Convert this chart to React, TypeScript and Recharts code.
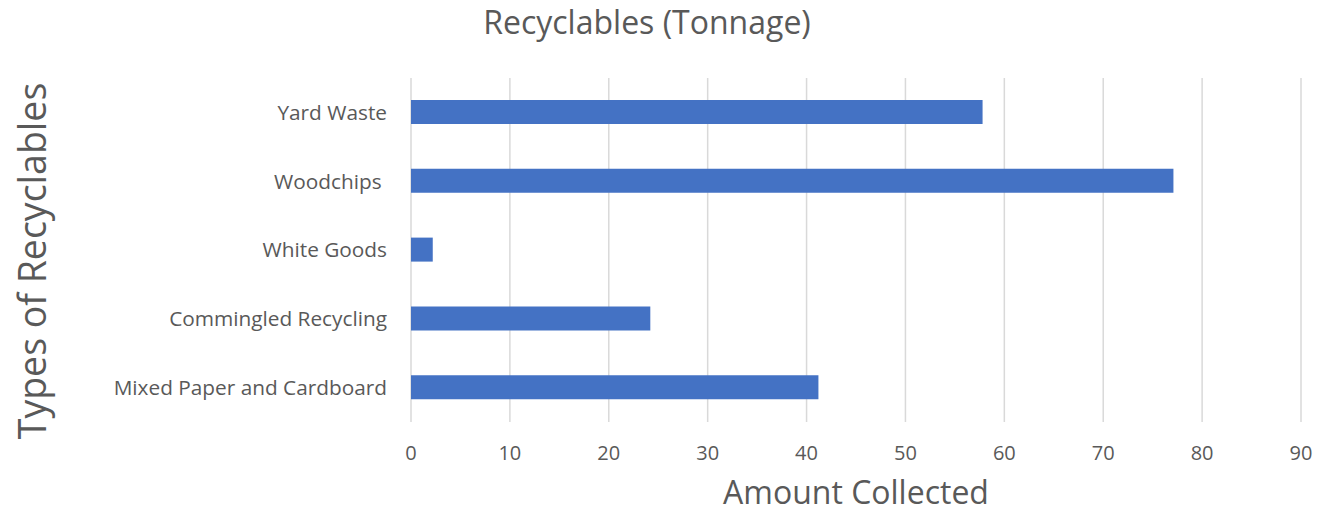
import React from 'react';
import { BarChart, Bar, XAxis, YAxis, CartesianGrid, Label } from 'recharts';

const categories = ['Yard Waste', 'Woodchips ', 'White Goods', 'Commingled Recycling', 'Mixed Paper and Cardboard'];
const amounts = [57.8, 77.1, 2.2, 24.2, 41.2];
const xTicks = [0, 10, 20, 30, 40, 50, 60, 70, 80, 90];

const data = categories.map((name, i) => ({ name, value: amounts[i] }));

const FONT = '"Open Sans", "Segoe UI", sans-serif';
const TEXT = '#595959';

const CategoryTick = (props: any) => {
  const { x, y, payload } = props;
  return (
    <text
      x={x}
      y={y}
      dy="0.355em"
      textAnchor="end"
      fill={TEXT}
      fontSize={20.8}
      fontFamily={FONT}
      style={{ whiteSpace: 'pre' }}
    >
      {payload.value}
    </text>
  );
};

const YTitle = (props: any) => {
  const vb = props.viewBox || { x: 0, y: 0, width: 0, height: 0 };
  const cx = vb.x + 46;
  const cy = vb.y + vb.height / 2 + 11;
  return (
    <text
      x={cx}
      y={cy}
      transform={`rotate(-90 ${cx} ${cy})`}
      textAnchor="middle"
      fill={TEXT}
      fontSize={37.5}
      fontFamily={FONT}
    >
      Types of Recyclables
    </text>
  );
};

const XTitle = (props: any) => {
  const vb = props.viewBox || { x: 0, y: 0, width: 0, height: 0 };
  const cx = vb.x + vb.width / 2;
  const cy = vb.y + vb.height - 10;
  return (
    <text x={cx} y={cy} textAnchor="middle" fill={TEXT} fontSize={32} fontFamily={FONT}>
      Amount Collected
    </text>
  );
};

export default function App() {
  return (
    <div style={{ position: 'absolute', left: 0, top: 0, width: 1335, height: 514, background: '#fff' }}>
      <div
        style={{
          position: 'absolute',
          left: 347,
          width: 600,
          top: 6,
          textAlign: 'center',
          fontFamily: FONT,
          fontSize: 32,
          lineHeight: '32px',
          color: TEXT,
        }}
      >
        Recyclables (Tonnage)
      </div>
      <BarChart
        width={1335}
        height={514}
        data={data}
        layout="vertical"
        margin={{ top: 78, right: 34, bottom: 0, left: 0 }}
      >
        <CartesianGrid horizontal={false} vertical={true} stroke="#d9d9d9" strokeWidth={1.5} />
        <XAxis
          type="number"
          domain={[0, 90]}
          ticks={xTicks}
          interval={0}
          height={92}
          axisLine={false}
          tickLine={false}
          tickSize={0}
          tickMargin={24}
          tick={{ fill: TEXT, fontSize: 20, fontFamily: FONT }}
        >
          <Label content={<XTitle />} />
        </XAxis>
        <YAxis
          type="category"
          dataKey="name"
          width={411}
          axisLine={false}
          tickLine={false}
          tickSize={0}
          tickMargin={24}
          interval={0}
          tick={<CategoryTick />}
        >
          <Label content={<YTitle />} />
        </YAxis>
        <Bar dataKey="value" fill="#4472C4" barSize={24} isAnimationActive={false} />
      </BarChart>
    </div>
  );
}
